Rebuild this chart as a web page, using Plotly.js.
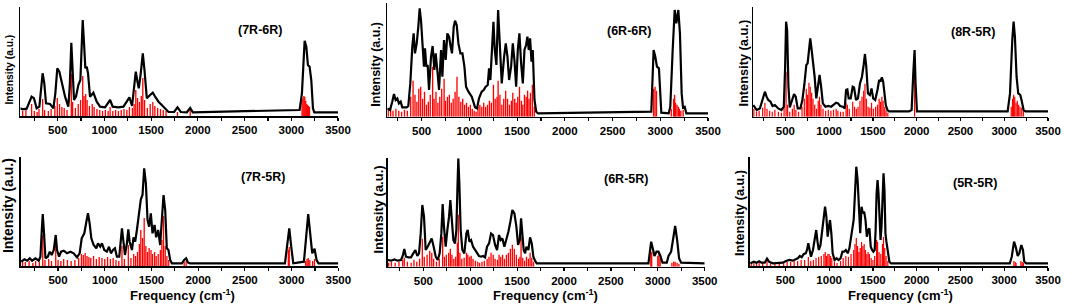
<!DOCTYPE html>
<html><head><meta charset="utf-8">
<script src="https://cdn.plot.ly/plotly-3.0.1.min.js"></script>
<style>html,body{margin:0;padding:0;background:#fff}#chart{width:1065px;height:305px}</style>
</head><body><div id="chart"></div>
<script>
// ---------- data ----------
const tickValues = [500,1000,1500,2000,2500,3000,3500];
const tickLabels = ['500','1000','1500','2000','2500','3000','3500'];
const minorTickValues = [250,750,1250,1750,2250,2750,3250];
const panelNames = ['(7R-6R)','(6R-6R)','(8R-5R)','(7R-5R)','(6R-5R)','(5R-5R)'];
const yTitleText = 'Intensity (a.u.)';
const xTitleText = 'Frequency (cm<sup>-1</sup>)';

// (7R-6R)
const p1LineX = [100,125,168,196,221,246,275,304,325,339,357,375,418,454,475,496,518,543,579,614,629,646,661,675,696,721,743,757,768,782,796,811,825,846,882,918,954,1007,1061,1089,1150,1204,1239,1268,1296,1318,1336,1354,1368,1389,1411,1429,1454,1489,1518,1543,1579,1614,1650,1686,1746,1782,1818,1882,1918,1946,3089,3114,3143,3161,3178,3196,3214,3232,3246,3500];
const p1LineY = [7.7,6.7,7.3,14.3,19.3,17.7,7.7,9.3,26,42.7,32.7,12.7,12,7.7,22.7,47.7,44.3,32.7,19.3,9.3,29.3,73.3,49.3,16,19.3,31,36,72.7,96,72.7,47.7,49.3,42.7,19.3,23.3,14.3,9.3,8.7,16,9.3,8.7,9.3,14.3,18.7,10,26,44.3,34.3,27.7,42.7,62.7,46,17.7,21,23.3,19.3,14.3,11,7.7,4,4,8.7,4,3.7,8,3.7,6,22.7,75.3,69.3,51,49.3,36,7.7,3.7,3.7];
const p1StickX = [125,160,221,250,280,300,339,360,400,430,470,496,520,545,570,600,646,660,690,720,745,768,782,800,815,840,870,890,920,950,980,1010,1040,1061,1090,1120,1150,1180,1210,1240,1268,1300,1318,1336,1355,1375,1395,1411,1430,1460,1490,1518,1540,1570,1600,1630,1660,1782,1918,3115,3125,3135,3145,3155,3165,3175,3185,3195];
const p1StickY = [5,6,12,5,4,7,17,6,5,7,10,18,12,9,8,6,42,14,8,12,16,40,20,22,16,10,12,9,7,6,5,6,5,9,5,6,5,6,7,6,9,8,12,26,18,14,20,38,16,8,12,14,10,8,7,6,5,4,6,16,18,20,19,15,12,11,10,9];

// (6R-6R)
const p2LineX = [140,168,192,210,227,245,262,280,297,343,360,381,402,416,430,448,465,479,493,510,524,535,549,563,577,598,615,633,647,664,682,703,717,734,752,769,787,804,818,836,850,867,885,906,927,948,965,990,1025,1060,1080,1101,1129,1150,1171,1192,1206,1220,1234,1252,1266,1283,1301,1318,1339,1364,1381,1399,1416,1437,1455,1472,1490,1507,1524,1542,1560,1577,1594,1608,1622,1636,1651,1664,1682,1700,1720,2906,2930,2948,2965,2986,3011,3088,3105,3130,3151,3168,3189,3206,3224,3238,3256,3273,3500];
const p2LineY = [8.3,6.7,15,22.7,16.7,18.3,13.3,15,9.3,9.3,10.7,33.3,70,83.3,63.3,73.3,90,108.3,96.7,66.7,50,68.3,50,51.7,26.7,60,70.7,46.7,63.3,46.7,26.7,66.7,40,76.7,56.7,83.3,80,70,63.3,90,96,91.7,73.3,63.3,63.3,50,30,25,20,9.3,8.3,18.3,25,26.7,30,31.7,48.3,36.7,60,95,66.7,51.7,106.7,73.3,33.3,60,73.3,60,36.7,50,73.3,56.7,30,66.7,83.3,53.3,33.3,66.7,71.7,80,66.7,78.3,55,66.7,16.7,5,3.3,5,66.7,60,50,48.3,4,3.3,10,66.7,106.7,93.3,106.7,83.3,23.3,9.3,10,3.3,3.3];
const p2StickX = [150,175,200,230,260,290,320,350,385,410,430,450,470,490,510,530,550,570,590,615,630,650,670,690,710,735,750,770,790,810,830,850,870,890,910,930,950,970,990,1010,1030,1050,1070,1090,1110,1130,1150,1170,1190,1210,1230,1252,1270,1290,1301,1320,1340,1360,1380,1400,1420,1440,1455,1475,1490,1507,1525,1545,1560,1577,1595,1610,1625,1640,1660,1680,2930,2945,2960,3115,3140,3150,3160,3175,3190,3200,3215,3240];
const p2StickY = [8,10,6,8,6,5,7,6,20,36,22,15,28,30,18,25,12,15,22,50,18,25,14,20,28,38,16,20,22,14,18,25,40,20,15,18,12,14,10,12,8,6,5,10,12,10,14,10,12,16,14,32,18,20,36,22,12,18,26,18,12,16,24,18,14,20,30,16,12,22,20,26,18,24,32,10,28,30,26,8,18,22,14,12,10,8,6,7];

// (8R-5R)
const p3LineX = [134,172,209,240,266,285,304,330,353,380,418,455,482,497,508,520,535,550,580,599,618,641,671,694,716,739,754,769,784,800,815,834,853,875,890,906,928,958,989,1023,1049,1080,1102,1125,1155,1178,1193,1208,1223,1246,1269,1284,1307,1329,1352,1375,1394,1409,1424,1443,1465,1484,1503,1526,1552,1571,1586,1602,1617,1632,1647,1666,1685,1912,1942,1961,1976,1987,2003,3039,3066,3092,3107,3122,3141,3160,3183,3202,3221,3243,3500];
const p3LineY = [11.7,6.7,8.3,16.7,25,20,16.7,15,10.7,11.7,8.3,6.7,10,50,95,86.7,30,9.3,16.7,22.7,20,8.3,8.3,16.7,31.7,51.7,53.3,70,78.3,66.7,56.7,40,18.3,30,41.7,31.7,13.3,10,10.7,10,11.7,14,13.3,10.7,10,8.3,26.7,27.3,18.3,18.3,30,29.3,16.7,18.3,33.3,40,51.7,62.7,50,23.3,21.7,28.3,18.3,16.7,26.7,36.7,35,39.3,35,23.3,11.7,6.7,5.3,5.3,6.7,43.3,66.7,33.3,5.3,5.3,23.3,76.7,95,80,40,23.3,21.7,15,6.7,5.3,5.3];
const p3StickX = [140,170,200,240,266,290,320,350,380,420,455,485,508,525,550,580,600,620,650,690,716,739,754,769,784,800,815,835,855,875,890,906,930,960,990,1020,1050,1080,1100,1130,1160,1193,1208,1230,1269,1290,1310,1330,1352,1375,1394,1409,1425,1445,1465,1484,1505,1530,1552,1571,1586,1602,1617,1635,1650,1670,1976,3080,3095,3107,3120,3135,3150,3165,3180,3200,3220];
const p3StickY = [8,5,6,9,14,8,6,5,7,5,4,10,45,12,5,8,12,7,5,10,18,28,22,34,30,24,18,12,8,16,20,12,8,6,7,6,7,8,6,5,5,14,12,8,15,10,8,10,16,20,26,33,18,10,9,14,8,10,12,18,15,20,16,10,6,4,40,10,18,22,20,14,16,12,10,9,6];

// (7R-5R)
const p4LineX = [105,140,169,197,222,258,293,311,326,336,350,365,390,411,432,454,475,489,511,532,561,596,632,667,703,731,753,781,803,820,838,856,881,910,927,952,970,995,1023,1045,1066,1088,1109,1130,1155,1173,1184,1198,1216,1237,1252,1266,1291,1308,1326,1344,1365,1386,1404,1422,1440,1458,1475,1493,1511,1533,1550,1572,1593,1611,1629,1647,1664,1682,1700,1718,1825,1850,1871,1892,1914,2929,2954,2975,2996,3018,3132,3153,3178,3199,3221,3246,3267,3288,3500];
const p4LineY = [4.3,6.7,5.3,7.7,5.3,7.7,5.3,9.3,36,52,32.7,7.7,9.3,14.3,11,16,31,16,9.3,14.3,15.3,12.7,14.3,12.7,8.7,12.7,27.7,32.7,44.3,52.7,42.7,27.7,21,17.7,22.7,19.3,22.7,16,14.3,19.3,12.7,16,17.7,9.3,9.3,29.3,37.7,26,11,22.7,36.7,24.3,16,28.7,24.3,36,52.7,66.7,71,97.7,82.7,46,39.3,52.7,32.7,41,28.7,36,21,46,71,56,17.7,16,6,2.7,2.7,6,7.7,3.3,2.7,2.7,19.3,37.7,19.3,2.7,4.3,29.3,52,32.7,12.7,17.3,6,2.7,2.7];
const p4StickX = [120,150,190,230,260,300,336,360,400,430,475,500,530,560,600,640,680,720,750,770,790,810,830,850,880,910,940,970,1000,1030,1060,1090,1120,1150,1184,1210,1252,1280,1310,1330,1350,1370,1386,1405,1422,1440,1458,1475,1495,1511,1533,1550,1572,1595,1611,1629,1647,1665,1685,1850,1871,2965,2975,3150,3165,3178,3195,3225,3245];
const p4StickY = [5,4,5,3,5,4,31,6,7,5,23,6,5,7,6,5,6,8,12,11,13,10,9,8,10,7,9,8,7,9,7,8,6,5,20,7,21,8,12,10,14,22,36,28,48,20,14,18,16,12,14,10,12,16,26,50,20,10,6,4,5,16,19,5,7,8,6,5,7];

// (6R-5R)
const p5LineX = [120,155,191,226,262,280,297,315,340,368,393,415,436,454,472,489,507,525,546,568,589,610,632,653,674,692,706,720,738,756,774,788,802,820,838,852,863,873,884,898,916,937,959,973,991,1009,1030,1051,1073,1094,1115,1137,1158,1179,1201,1222,1243,1265,1286,1307,1325,1343,1364,1386,1407,1428,1449,1471,1492,1510,1528,1542,1556,1570,1585,1599,1620,1638,1656,1673,1691,1709,2900,2907,2929,2950,2964,2986,3007,3028,3050,3096,3114,3142,3163,3185,3206,3227,3249,3500];
const p5LineY = [6.7,6,7.3,6,6.7,10.7,17.7,10,9.3,9.3,13.3,16.7,10.7,13.3,33.3,61.7,50,16.7,20,25,28.3,20,10,6.7,13.3,33.3,62.7,40,20,36.7,50,66.7,50,26.7,23.3,36.7,76.7,108.3,83.3,36.7,16.7,13.3,33.3,36.7,25,26.7,20,16.7,13.3,10.7,10,10.7,9.3,20,23.3,33.3,31.7,21.7,16.7,31.7,26.7,28.3,20,26.7,35,45,56.7,53.3,40,21.7,26.7,48.3,33.3,16.7,13.3,20,16.7,29.3,23.3,10,6,3.3,3.3,10,25,16.7,10.7,15,15,10.7,4,4,10.7,15,30,40.7,26.7,8.3,4,3.3];
const p5StickX = [130,160,200,240,280,297,330,370,400,430,460,489,510,540,568,590,610,640,670,706,725,745,770,788,805,825,845,863,873,890,910,935,960,975,995,1010,1030,1055,1080,1100,1125,1150,1180,1200,1222,1245,1265,1290,1307,1325,1345,1365,1386,1407,1428,1449,1470,1492,1515,1530,1542,1560,1580,1600,1620,1638,1656,1675,2925,2935,3000,3012,3025,3150,3170,3185,3205,3225];
const p5StickY = [4,5,4,5,7,9,5,4,7,5,8,28,10,12,16,14,8,5,8,30,10,12,14,18,12,8,10,24,52,14,8,9,14,12,10,11,8,6,5,4,5,6,8,10,14,12,8,7,12,10,12,8,12,14,18,22,18,12,8,10,30,9,6,10,8,14,9,5,14,15,11,13,9,4,5,5,4,3];

// (5R-5R)
const p6LineX = [100,114,140,170,200,226,264,290,313,358,395,433,470,507,545,582,612,642,665,687,710,732,747,762,777,792,815,837,852,867,882,901,920,939,953,968,983,998,1010,1025,1040,1062,1085,1107,1130,1152,1171,1190,1212,1231,1250,1265,1280,1295,1310,1325,1340,1355,1370,1385,1400,1415,1430,1445,1460,1475,1490,1505,1520,1531,1542,1553,1564,1576,1587,1598,1609,1621,1632,1643,1654,1669,1688,1707,3064,3086,3112,3131,3154,3172,3195,3214,3229,3251,3500];
const p6LineY = [2.7,3.3,4.3,3.3,4.7,3.3,3.3,7.3,4.3,2.7,2.7,3.3,3.3,5,6,5.3,6.7,7.7,10,8.7,12,12.7,16,22.7,16,9.3,16,29.3,36,24.3,16,21,36,54.3,59.3,49.3,29.3,39.3,46,32.7,12.7,6,7.7,6,7.7,14.3,14.3,16,12.7,17.7,28.7,36,46,72.7,99.3,86,49.3,32.7,59.3,52.7,54.3,46,29.3,36,37.7,19.3,16,14.3,16,36,72.7,86,72.7,39.3,26,39.3,79.3,92.7,76,32.7,24.3,12.7,4.3,2.7,2.7,9.3,24.3,19.3,10,12.7,21,16,4.3,2.7,2.7];
const p6StickX = [110,140,170,200,240,290,330,380,430,480,520,560,600,640,680,720,762,790,820,850,880,910,940,955,970,985,1000,1015,1030,1060,1090,1130,1160,1190,1220,1250,1280,1295,1310,1325,1340,1355,1370,1385,1400,1415,1430,1445,1460,1480,1500,1520,1542,1553,1570,1590,1609,1621,1635,1650,1670,3110,3125,3135,3190,3205,3220];
const p6StickY = [3,4,3,4,3,6,3,2,3,3,4,4,5,5,6,6,9,5,6,8,9,10,12,14,10,12,12,10,8,4,3,5,8,10,9,12,16,22,28,20,14,18,24,20,22,16,12,14,12,8,6,10,26,24,14,12,22,29,18,10,5,5,4,3,5,4,3];

// ---------- layout geometry (pixels) ----------
const W = 1065, H = 305;
const geom = [
  {x0:20.3, x1:338,   yTop:6.7,   yBot:116,   xr:[100,3500]},
  {x0:387.3,x1:708,   yTop:3.3,   yBot:116.7, xr:[140,3500]},
  {x0:753,  x1:1048,  yTop:6.7,   yBot:116.7, xr:[130,3500]},
  {x0:20.7, x1:338.3, yTop:156.7, yBot:266,   xr:[100,3500]},
  {x0:387.7,x1:704.7, yTop:158.2, yBot:266.7, xr:[120,3500]},
  {x0:749.5,x1:1048,  yTop:156.7, yBot:266,   xr:[90,3500]}
];
const labelPos = [[260,30],[629,30.7],[973,32.3],[262.7,177.3],[625.7,179.3],[975,183.3]];
const yTitlePos = [[8.5,70],[375.7,64],[743.3,63.3],[8.3,205.8],[378.3,209.2],[740,213]];
const yTitleSize = [10.3,12.5,12.8,14,13,12.7];
const xTitlePos = [[182.5,295],[545.8,295],[900,295]];

const lines = [[p1LineX,p1LineY],[p2LineX,p2LineY],[p3LineX,p3LineY],[p4LineX,p4LineY],[p5LineX,p5LineY],[p6LineX,p6LineY]];
const sticks = [[p1StickX,p1StickY],[p2StickX,p2StickY],[p3StickX,p3StickY],[p4StickX,p4StickY],[p5StickX,p5StickY],[p6StickX,p6StickY]];

const FONT = 'Arial, "Liberation Sans", sans-serif';
const traces = [];
const layout = {
  width: W, height: H,
  margin: {l:0,r:0,t:0,b:0,pad:0},
  paper_bgcolor: '#ffffff', plot_bgcolor: 'rgba(0,0,0,0)',
  showlegend: false, barmode: 'overlay',
  annotations: []
};

geom.forEach((g, i) => {
  const n = i + 1;
  const sfx = n > 1 ? String(n) : '';
  const xa = 'x' + sfx, ya = 'y' + sfx;
  traces.push({type:'bar', x: sticks[i][0], y: sticks[i][1], width: 14,
    xaxis: xa, yaxis: ya, marker: {color:'#ff0000', line:{width:0}}, hoverinfo:'skip'});
  traces.push({type:'scatter', mode:'lines', x: lines[i][0], y: lines[i][1],
    xaxis: xa, yaxis: ya, line: {color:'#000000', width:2.2}, hoverinfo:'skip'});
  layout['xaxis' + sfx] = {
    domain: [g.x0 / W, g.x1 / W], range: g.xr, anchor: ya,
    tickmode: 'array', tickvals: tickValues, ticktext: tickLabels,
    ticks: 'outside', ticklen: 3, tickwidth: 1.2, tickcolor: '#000',
    minor: {tickmode:'array', tickvals: minorTickValues, ticks:'outside', ticklen: 3, tickwidth: 1.2, tickcolor:'#000'},
    showline: true, linecolor: '#000', linewidth: 1.5,
    showgrid: false, zeroline: false, fixedrange: true,
    tickfont: {family: FONT, size: 11.5, color: '#000', weight: 'bold'}
  };
  layout['yaxis' + sfx] = {
    domain: [1 - g.yBot / H, 1 - g.yTop / H], range: [0, g.yBot - g.yTop], anchor: xa,
    showline: true, linecolor: '#000', linewidth: 1.5,
    showticklabels: false, ticks: '', showgrid: false, zeroline: false, fixedrange: true
  };
  layout.annotations.push({
    xref:'paper', yref:'paper', x: labelPos[i][0] / W, y: 1 - labelPos[i][1] / H,
    xanchor:'center', yanchor:'middle', showarrow:false,
    text: '<b>' + panelNames[i] + '</b>', font: {family: FONT, size: 12.5, color:'#000'}
  });
  layout.annotations.push({
    xref:'paper', yref:'paper', x: yTitlePos[i][0] / W, y: 1 - yTitlePos[i][1] / H,
    xanchor:'center', yanchor:'middle', showarrow:false, textangle: -90,
    text: '<b>' + yTitleText + '</b>', font: {family: FONT, size: yTitleSize[i], color:'#000'}
  });
});
xTitlePos.forEach(p => {
  layout.annotations.push({
    xref:'paper', yref:'paper', x: p[0] / W, y: 1 - p[1] / H,
    xanchor:'center', yanchor:'middle', showarrow:false,
    text: '<b>' + xTitleText + '</b>', font: {family: FONT, size: 13, color:'#000'}
  });
});

Plotly.newPlot('chart', traces, layout, {displayModeBar:false, staticPlot:true});
</script>
</body></html>
